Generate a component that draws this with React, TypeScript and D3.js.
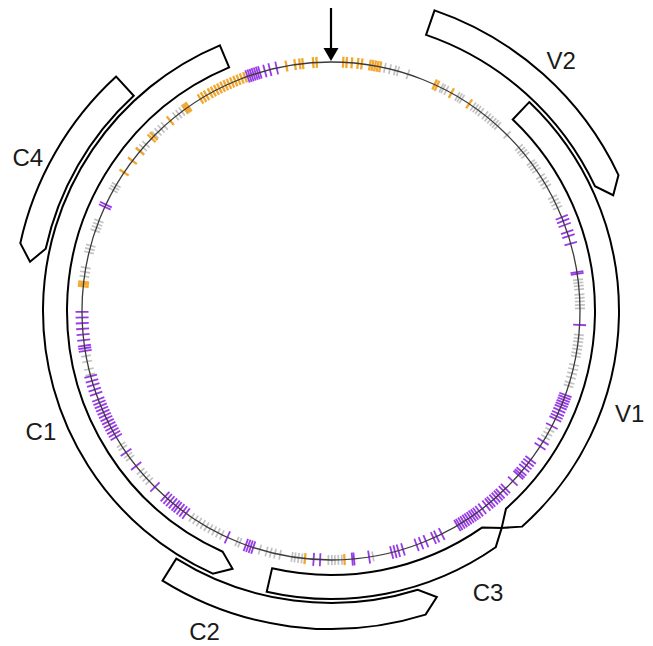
import React from 'react';
import * as d3 from 'd3';

// Map positions are given in degrees clockwise from the origin (arrow at top).
const MAP_EXTENT = 360;

const orangeSites = [-84.3, -83.8, -83.3, -56.2, -52.9, -50.1, -46.1, -45.4, -40.2, -35.9, -35.4, -34.9,
  -31.6, -30.8, -30.0, -29.0, -28.2, -27.4, -26.6, -25.8, -25.0, -24.2, -23.4, -22.6, -21.8, -21.0, -20.2,
  -10.3, -8.3, -7.2, -6.5, -4.1, -3.3, 2.8, 3.6, 4.8, 6.2, 7.1, 9.0, 9.6, 10.2, 10.8, 11.4, 24.6, 25.2,
  28.9, 33.7, 176.9, 186.0];

const purpleSites = [-65.3, -64.7, -19.6, -19.1, -18.6, -18.1, -17.6, -17.1, -16.6, -15.4, -14.2, -12.6,
  67.9, 68.8, 69.8, 71.5, 72.5, 74.3, 81.0, 81.4, 93.2, 109.7, 110.3, 110.9, 111.5, 112.1, 112.7, 113.5,
  114.3, 115.0, 115.7, 117.5, 121.6, 122.9, 126.7, 127.5, 128.3, 129.1, 130.1, 130.7, 131.2, 133.1, 135.5,
  136.2, 137.2, 137.8, 138.5, 139.2, 140.0, 140.6, 141.4, 142.6, 143.5, 144.2, 144.8, 145.4, 146.0, 146.6,
  147.2, 147.8, 148.4, 149.0, 149.5, 153.6, 154.9, 155.7, 157.6, 158.8, 159.9, 163.2, 164.3, 165.1, 165.9,
  171.2, 174.7, 175.1, 182.5, 184.0, 198.2, 198.8, 199.4, 200.0, 204.6, 215.6, 216.4, 217.2, 218.0, 218.6,
  219.4, 220.2, 221.0, 221.8, 225.0, 231.5, 235.4, 239.6, 240.4, 241.2, 242.0, 242.8, 243.6, 244.4, 245.2,
  246.0, 246.8, 247.6, 248.4, 249.2, 250.6, 251.6, 252.7, 253.7, 254.8, 260.8, 261.4, 262.0, 263.3, 264.6,
  265.9, 267.2, 268.5, 269.8];

const graySites = [-82.0, -81.0, -80.0, -76.4, -75.6, -74.8, -71.2, -70.4, -69.6, -68.8, -61.0, -60.3, -59.6,
  -50.0, -49.0, -48.0, -45.0, -44.0, -43.0, -42.0, -38.6, -37.7, -36.8, 12.5, 13.7, 14.9, 15.6, 18.0, 26.3,
  26.8, 27.6, 30.5, 31.1, 31.7, 34.8, 35.5, 36.2, 37.0, 38.2, 39.0, 39.8, 40.6, 41.3, 42.0, 45.0, 49.0, 49.8,
  50.5, 51.3, 53.4, 54.1, 54.8, 55.6, 57.3, 58.2, 59.1, 60.0, 62.8, 63.7, 64.6, 65.5, 82.8, 83.5, 84.2, 85.0,
  86.2, 87.0, 87.8, 88.6, 89.4, 95.5, 96.3, 97.1, 98.0, 98.8, 99.7, 100.5, 102.5, 103.5, 104.5, 105.5, 106.7,
  107.5, 118.5, 119.5, 120.5, 170.3, 177.5, 178.3, 179.1, 179.8, 180.6, 186.7, 187.5, 188.3, 189.0, 191.8,
  193.0, 194.0, 195.0, 196.6, 201.5, 202.2, 206.0, 207.0, 208.0, 209.0, 210.0, 211.0, 212.0, 213.0, 214.0,
  226.9, 227.9, 228.9, 229.9, 233.8, 234.6, 236.7, 237.5, 255.2, 256.5, 258.3, 259.6];

const orfNames = ['V2', 'V1', 'C3', 'C2', 'C1', 'C4'];
const orfStart = [19.0, 43.5, 192.9, 212.0, 337.3, 317.5];
const orfEnd = [67.7, 141.8, 141.8, 159.7, 200.9, 279.3];
const orfStrand = [1, 1, -1, -1, -1, -1];
const orfTrack = [1, 0, 0, 1, 0, 1];

const originPosition = 0;

export default function App() {
  const W = 653, H = 646;
  const cx = 331, cy = 311, R = 249;
  const tracks = [[264, 288], [292, 318]];
  const headLen = 16;

  const angle = d3.scaleLinear().domain([0, MAP_EXTENT]).range([0, 2 * Math.PI]);
  const norm = (p: number) => ((p % MAP_EXTENT) + MAP_EXTENT) % MAP_EXTENT;
  const pt = (a: number, r: number): [number, number] => [cx + r * Math.sin(a), cy - r * Math.cos(a)];

  const tickPath = (p: number, r0: number, r1: number) => {
    const a = angle(norm(p));
    const [x0, y0] = pt(a, r0);
    const [x1, y1] = pt(a, r1);
    return { x0, y0, x1, y1 };
  };

  const orfPath = (i: number) => {
    const [ri, ro] = tracks[orfTrack[i]];
    const rm = (ri + ro) / 2;
    const dir = orfStrand[i];
    const a0 = angle(orfStart[i]);
    const a1 = angle(orfEnd[i]);
    const ab = a1 - dir * (headLen / rm);
    const large = Math.abs(ab - a0) > Math.PI ? 1 : 0;
    const sweepFwd = dir > 0 ? 1 : 0;
    const sweepBack = dir > 0 ? 0 : 1;
    const p0 = pt(a0, ro), p1 = pt(ab, ro), tip = pt(a1, rm), p2 = pt(ab, ri), p3 = pt(a0, ri);
    return `M${p0[0]},${p0[1]} A${ro},${ro} 0 ${large} ${sweepFwd} ${p1[0]},${p1[1]} L${tip[0]},${tip[1]} L${p2[0]},${p2[1]} A${ri},${ri} 0 ${large} ${sweepBack} ${p3[0]},${p3[1]} Z`;
  };

  const labelPlace: Record<string, [number, number]> = {
    V2: [42.6, 340], V1: [109, 316], C3: [150.8, 322], C2: [201.5, 345], C1: [247.5, 314], C4: [-63.1, 340],
  };

  const siteGroups: { sites: number[]; color: string; r0: number; r1: number; w: number; op: number }[] = [
    { sites: graySites, color: '#b4b4b4', r0: R - 5, r1: R + 5, w: 1.7, op: 0.8 },
    { sites: orangeSites, color: '#f2a323', r0: R - 5.5, r1: R + 5.5, w: 2.3, op: 0.95 },
    { sites: purpleSites, color: '#9331e6', r0: R - 6.5, r1: R + 6.5, w: 1.8, op: 0.95 },
  ];

  const oa = angle(originPosition);
  const tipPt = pt(oa, R + 1);
  const headBase = pt(oa, R + 14);
  const tail = pt(oa, R + 54);
  const perp: [number, number] = [Math.cos(oa), Math.sin(oa)];
  const hw = 7.5;

  return (
    <svg width={W} height={H} style={{ position: 'absolute', left: 0, top: 0, background: '#fff' }}>
      {siteGroups.map((g, gi) => (
        <g key={gi} stroke={g.color} strokeWidth={g.w} opacity={g.op}>
          {g.sites.map((s, i) => {
            const t = tickPath(s, g.r0, g.r1);
            return <line key={i} x1={t.x0} y1={t.y0} x2={t.x1} y2={t.y1} />;
          })}
        </g>
      ))}
      <circle cx={cx} cy={cy} r={R} fill="none" stroke="#3a3a3a" strokeWidth={1.3} />
      {orfNames.map((n, i) => (
        <path key={n} d={orfPath(i)} fill="none" stroke="#000" strokeWidth={2} strokeLinejoin="miter" />
      ))}
      {orfNames.map((n) => {
        const [p, r] = labelPlace[n];
        const [x, y] = pt(angle(norm(p)), r);
        return (
          <text key={n} x={x} y={y} textAnchor="middle" dominantBaseline="central"
            fontFamily="Arial, 'Liberation Sans', sans-serif" fontSize={24} fill="#1a1a1a">{n}</text>
        );
      })}
      <line x1={tail[0]} y1={tail[1]} x2={headBase[0]} y2={headBase[1]} stroke="#000" strokeWidth={2.2} />
      <path d={`M${tipPt[0]},${tipPt[1]} L${headBase[0] - perp[0] * hw},${headBase[1] - perp[1] * hw} L${headBase[0] + perp[0] * hw},${headBase[1] + perp[1] * hw} Z`} fill="#000" />
    </svg>
  );
}
